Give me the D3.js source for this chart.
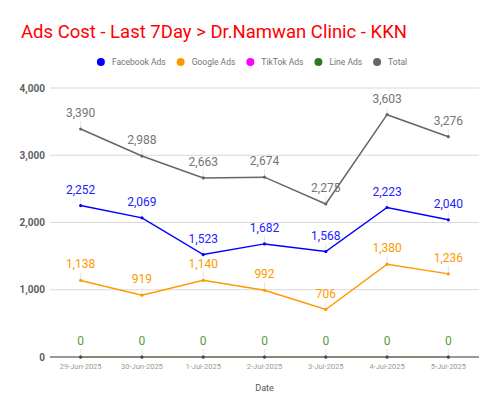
<!DOCTYPE html>
<html>
<head>
<meta charset="utf-8">
<script src="https://cdn.jsdelivr.net/npm/d3@7"></script>
<style>
  body { margin: 0; background: #fff; }
  svg { font-family: Roboto, "Noto Sans", sans-serif; display: block; }
</style>
</head>
<body>
<div id="chart"></div>
<script>
// --- DATA ---
const dates = ["29-Jun-2025", "30-Jun-2025", "1-Jul-2025", "2-Jul-2025", "3-Jul-2025", "4-Jul-2025", "5-Jul-2025"];
const facebookAds = [2252, 2069, 1523, 1682, 1568, 2223, 2040];
const googleAds = [1138, 919, 1140, 992, 706, 1380, 1236];
const tiktokAds = [0, 0, 0, 0, 0, 0, 0];
const lineAds = [0, 0, 0, 0, 0, 0, 0];
const totalCost = [3390, 2988, 2663, 2674, 2275, 3603, 3276];
const yTicks = [0, 1000, 2000, 3000, 4000];

const series = [
  {name: "Facebook Ads", values: facebookAds, color: "#0000ff", label: "#2222ff", showLabels: true},
  {name: "Google Ads", values: googleAds, color: "#ff9900", label: "#ff9900", showLabels: true},
  {name: "TikTok Ads", values: tiktokAds, color: "#ff00ff", label: "#ff00ff", showLabels: false},
  {name: "Line Ads", values: lineAds, color: "#6aa84f", label: "#5b9a45", showLabels: true, legendColor: "#38761d"},
  {name: "Total", values: totalCost, color: "#666666", label: "#757575", showLabels: true}
];

const W = 500, H = 415;
const margin = {top: 88, right: 21, bottom: 58, left: 50};
const width = W - margin.left - margin.right;
const height = H - margin.top - margin.bottom;

const svg = d3.select("#chart").append("svg")
  .attr("width", W).attr("height", H);

// title
svg.append("text")
  .attr("x", 21).attr("y", 38)
  .attr("fill", "#ff0000")
  .style("font-size", "18.5px")
  .text("Ads Cost - Last 7Day > Dr.Namwan Clinic - KKN");

// legend
const legend = svg.append("g");
let lx = 0;
series.forEach(s => {
  const g = legend.append("g").attr("transform", `translate(${lx},0)`);
  g.append("circle").attr("cx", 4).attr("cy", 0).attr("r", 4)
    .attr("fill", s.legendColor || s.color);
  const t = g.append("text").attr("x", 15).attr("y", 3.1)
    .attr("fill", "#757575").style("font-size", "8.5px").text(s.name);
  lx += 15 + t.node().getComputedTextLength() + 11;
});
const legendW = lx - 11;
legend.attr("transform", `translate(${(W - legendW) / 2 + 2},62)`);

const plot = svg.append("g").attr("transform", `translate(${margin.left},${margin.top})`);

const x = d3.scalePoint().domain(dates).range([0, width]).padding(0.5);
const y = d3.scaleLinear().domain([0, 4000]).range([height, 0]);

// grid
plot.selectAll(".grid").data(yTicks.filter(d => d > 0)).join("line")
  .attr("x1", 0).attr("x2", width)
  .attr("y1", d => y(d)).attr("y2", d => y(d))
  .attr("stroke", "#d9d9d9").attr("stroke-width", 1);

// y labels
plot.selectAll(".ylab").data(yTicks).join("text")
  .attr("x", -5).attr("y", d => y(d) + 3.5)
  .attr("text-anchor", "end")
  .attr("fill", "#5f5f5f")
  .style("font-size", "10px").style("font-weight", "bold")
  .text(d => d3.format(",")(d));

// baseline
plot.append("line")
  .attr("x1", 0).attr("x2", width)
  .attr("y1", y(0)).attr("y2", y(0))
  .attr("stroke", "#777").attr("stroke-width", 1.5);

// x labels
plot.selectAll(".xlab").data(dates).join("text")
  .attr("x", d => x(d)).attr("y", height + 12)
  .attr("text-anchor", "middle")
  .attr("fill", "#9a9a9a")
  .style("font-size", "7.5px")
  .text(d => d);

svg.append("text")
  .attr("x", margin.left + width / 2).attr("y", 391)
  .attr("text-anchor", "middle")
  .attr("fill", "#555")
  .style("font-size", "9px")
  .text("Date");

// label stems
series.filter(s => s.showLabels).forEach(s => {
  plot.append("g").selectAll("line").data(s.values).join("line")
    .attr("x1", (d, i) => x(dates[i])).attr("x2", (d, i) => x(dates[i]))
    .attr("y1", d => y(d) - 8).attr("y2", d => y(d))
    .attr("stroke", "#e6e6e6").attr("stroke-width", 1);
});

// lines
const line = d3.line().x((d, i) => x(dates[i])).y(d => y(d));
series.forEach(s => {
  plot.append("path").datum(s.values)
    .attr("fill", "none").attr("stroke", s.color).attr("stroke-width", 1.5)
    .attr("d", line);
  plot.append("g").selectAll("circle").data(s.values).join("circle")
    .attr("cx", (d, i) => x(dates[i])).attr("cy", d => y(d)).attr("r", 1.6)
    .attr("fill", s.name === "Line Ads" ? "#444" : s.color);
});

// data labels
series.filter(s => s.showLabels).forEach(s => {
  plot.append("g").selectAll("text").data(s.values).join("text")
    .attr("x", (d, i) => x(dates[i])).attr("y", d => y(d) - 12)
    .attr("text-anchor", "middle")
    .attr("fill", s.label)
    .style("font-size", "12px")
    .text(d => d3.format(",")(d));
});
</script>
</body>
</html>
